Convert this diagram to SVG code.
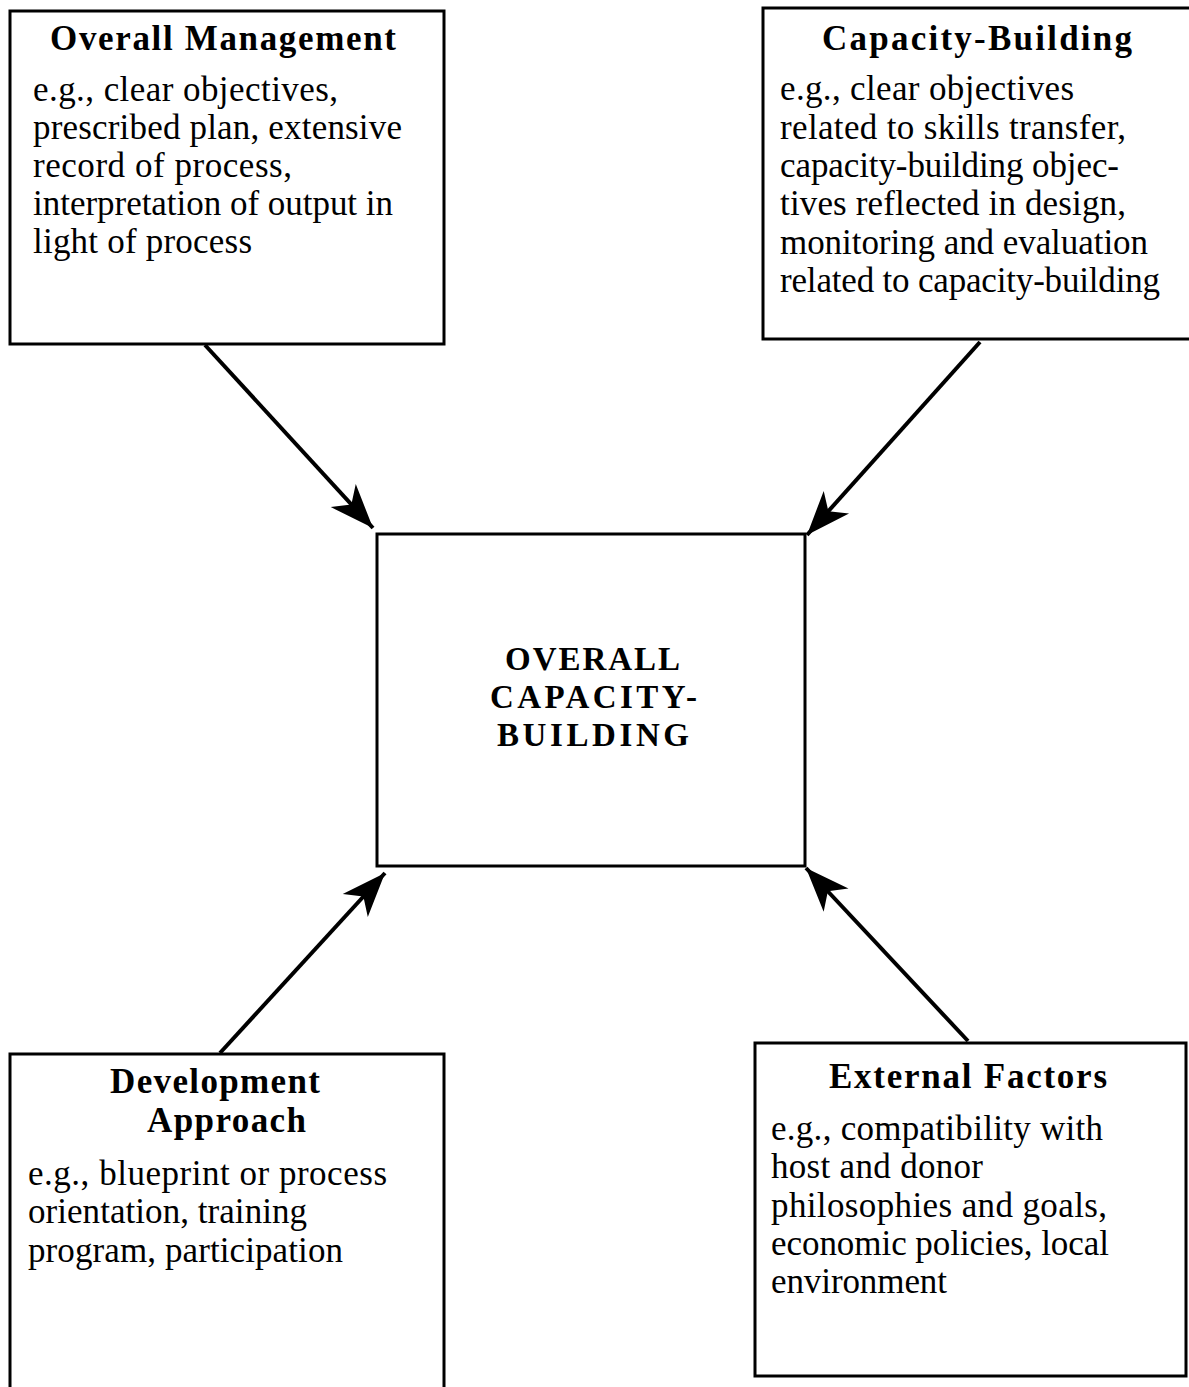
<svg xmlns="http://www.w3.org/2000/svg" width="1189" height="1387" viewBox="0 0 1189 1387">
<defs>
<style>
.box{fill:#fff;stroke:#000;stroke-width:3}
.t{font-family:"Liberation Serif","Times New Roman",serif;font-weight:bold;font-size:35px;fill:#000}
.b{font-family:"Liberation Serif","Times New Roman",serif;font-size:35px;fill:#000}
.c{font-family:"Liberation Serif","Times New Roman",serif;font-weight:bold;font-size:33px;fill:#000}
.ln{stroke:#000;stroke-width:4;fill:none}
</style>
<marker id="ah" markerUnits="userSpaceOnUse" markerWidth="50" markerHeight="40" viewBox="-44 -20 48 40" refX="0" refY="0" orient="auto">
<path d="M0,0 L-44,-17 L-32,0 L-44,17 Z" fill="#000"/>
</marker>
</defs>
<rect width="1189" height="1387" fill="#fff"/>
<g id="connectors">
<line class="ln" x1="205" y1="345" x2="373" y2="528" marker-end="url(#ah)"/>
<line class="ln" x1="980" y1="342" x2="807" y2="535" marker-end="url(#ah)"/>
<line class="ln" x1="220" y1="1053" x2="385" y2="873" marker-end="url(#ah)"/>
<line class="ln" x1="968" y1="1041" x2="806" y2="868" marker-end="url(#ah)"/>
</g>
<g id="overall-management">
<rect class="box" x="10" y="11" width="434" height="333"/>
<text class="t" x="50" y="50" textLength="346" lengthAdjust="spacing">Overall Management</text>
<text class="b" x="33" y="101" textLength="305" lengthAdjust="spacing">e.g., clear objectives,</text>
<text class="b" x="33" y="139" textLength="369" lengthAdjust="spacing">prescribed plan, extensive</text>
<text class="b" x="33" y="177" textLength="259" lengthAdjust="spacing">record of process,</text>
<text class="b" x="33" y="215" textLength="360" lengthAdjust="spacing">interpretation of output in</text>
<text class="b" x="33" y="253" textLength="219" lengthAdjust="spacing">light of process</text>
</g>
<g id="capacity-building">
<rect class="box" x="763" y="8" width="440" height="331"/>
<text class="t" x="822" y="50" textLength="310" lengthAdjust="spacing">Capacity-Building</text>
<text class="b" x="780" y="100" textLength="294" lengthAdjust="spacing">e.g., clear objectives</text>
<text class="b" x="780" y="139" textLength="346" lengthAdjust="spacing">related to skills transfer,</text>
<text class="b" x="780" y="177" textLength="339" lengthAdjust="spacing">capacity-building objec-</text>
<text class="b" x="780" y="215" textLength="346" lengthAdjust="spacing">tives reflected in design,</text>
<text class="b" x="780" y="254" textLength="368" lengthAdjust="spacing">monitoring and evaluation</text>
<text class="b" x="780" y="292" textLength="380" lengthAdjust="spacing">related to capacity-building</text>
</g>
<g id="overall-capacity-building">
<rect class="box" x="377" y="534" width="428" height="332"/>
<text class="c" x="505" y="670" textLength="175" lengthAdjust="spacing">OVERALL</text>
<text class="c" x="490" y="708" textLength="207" lengthAdjust="spacing">CAPACITY-</text>
<text class="c" x="497" y="746" textLength="192" lengthAdjust="spacing">BUILDING</text>
</g>
<g id="development-approach">
<rect class="box" x="10" y="1054" width="434" height="340"/>
<text class="t" x="110" y="1093" textLength="210" lengthAdjust="spacing">Development</text>
<text class="t" x="147" y="1132" textLength="159" lengthAdjust="spacing">Approach</text>
<text class="b" x="28" y="1185" textLength="359" lengthAdjust="spacing">e.g., blueprint or process</text>
<text class="b" x="28" y="1223" textLength="279" lengthAdjust="spacing">orientation, training</text>
<text class="b" x="28" y="1262" textLength="315" lengthAdjust="spacing">program, participation</text>
</g>
<g id="external-factors">
<rect class="box" x="755" y="1043" width="431" height="333"/>
<text class="t" x="829" y="1088" textLength="278" lengthAdjust="spacing">External Factors</text>
<text class="b" x="771" y="1140" textLength="332" lengthAdjust="spacing">e.g., compatibility with</text>
<text class="b" x="771" y="1178" textLength="212" lengthAdjust="spacing">host and donor</text>
<text class="b" x="771" y="1217" textLength="336" lengthAdjust="spacing">philosophies and goals,</text>
<text class="b" x="771" y="1255" textLength="338" lengthAdjust="spacing">economic policies, local</text>
<text class="b" x="771" y="1293" textLength="176" lengthAdjust="spacing">environment</text>
</g>
</svg>
